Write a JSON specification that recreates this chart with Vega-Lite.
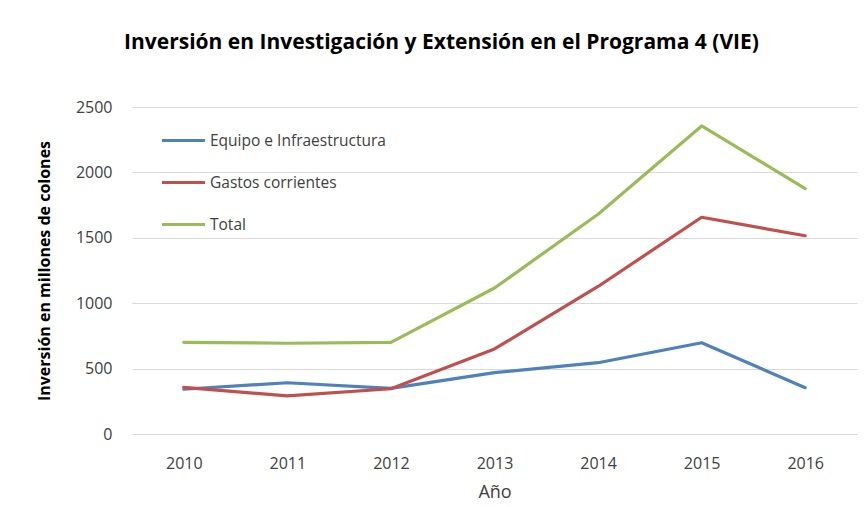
{
  "$schema": "https://vega.github.io/schema/vega-lite/v6.json",
  "width": 725,
  "height": 327,
  "autosize": "none",
  "padding": {"left": 132, "top": 107, "right": 10, "bottom": 73},
  "background": "white",
  "title": {
    "text": "Inversión en Investigación y Extensión en el Programa 4 (VIE)",
    "font": "Open Sans",
    "fontSize": 21,
    "fontWeight": "bold",
    "color": "#000000",
    "anchor": "middle",
    "dx": -53,
    "offset": 46
  },
  "data": {
    "values": [
      {"year": "2010", "serie": "Equipo e Infraestructura", "valor": 342},
      {"year": "2011", "serie": "Equipo e Infraestructura", "valor": 392},
      {"year": "2012", "serie": "Equipo e Infraestructura", "valor": 349},
      {"year": "2013", "serie": "Equipo e Infraestructura", "valor": 469},
      {"year": "2014", "serie": "Equipo e Infraestructura", "valor": 545},
      {"year": "2015", "serie": "Equipo e Infraestructura", "valor": 698},
      {"year": "2016", "serie": "Equipo e Infraestructura", "valor": 354},
      {"year": "2010", "serie": "Gastos corrientes", "valor": 356},
      {"year": "2011", "serie": "Gastos corrientes", "valor": 292},
      {"year": "2012", "serie": "Gastos corrientes", "valor": 346},
      {"year": "2013", "serie": "Gastos corrientes", "valor": 650},
      {"year": "2014", "serie": "Gastos corrientes", "valor": 1128},
      {"year": "2015", "serie": "Gastos corrientes", "valor": 1657},
      {"year": "2016", "serie": "Gastos corrientes", "valor": 1516},
      {"year": "2010", "serie": "Total", "valor": 701},
      {"year": "2011", "serie": "Total", "valor": 694},
      {"year": "2012", "serie": "Total", "valor": 700},
      {"year": "2013", "serie": "Total", "valor": 1116},
      {"year": "2014", "serie": "Total", "valor": 1680},
      {"year": "2015", "serie": "Total", "valor": 2355},
      {"year": "2016", "serie": "Total", "valor": 1876}
    ]
  },
  "mark": {"type": "line", "strokeWidth": 3.2, "strokeCap": "round", "strokeJoin": "round"},
  "encoding": {
    "x": {
      "field": "year",
      "type": "ordinal",
      "scale": {"type": "point", "padding": 0.5},
      "axis": {
        "title": "Año",
        "labelAngle": 0,
        "domain": false,
        "ticks": false,
        "grid": false,
        "labelFont": "Open Sans",
        "labelFontSize": 16,
        "labelColor": "#404040",
        "labelPadding": 21,
        "titleFont": "Open Sans",
        "titleFontSize": 18,
        "titleFontWeight": "normal",
        "titleColor": "#404040",
        "titlePadding": 12
      }
    },
    "y": {
      "field": "valor",
      "type": "quantitative",
      "scale": {"domain": [0, 2500]},
      "axis": {
        "title": "Inversión en millones de colones",
        "values": [0, 500, 1000, 1500, 2000, 2500],
        "format": "d",
        "domain": false,
        "ticks": false,
        "gridColor": "#D9D9D9",
        "gridWidth": 1,
        "labelFont": "Open Sans",
        "labelFontSize": 16,
        "labelColor": "#404040",
        "labelPadding": 20,
        "titleFont": "Open Sans",
        "titleFontSize": 16,
        "titleFontWeight": "bold",
        "titleColor": "#000000",
        "titlePadding": 23
      }
    },
    "color": {
      "field": "serie",
      "type": "nominal",
      "scale": {
        "domain": ["Equipo e Infraestructura", "Gastos corrientes", "Total"],
        "range": ["#4F81BD", "#C0504D", "#9BBB59"]
      },
      "legend": {
        "title": null,
        "orient": "none",
        "legendX": 28,
        "legendY": 10,
        "symbolType": "stroke",
        "symbolSize": 1850,
        "symbolStrokeWidth": 3.2,
        "labelFont": "Open Sans",
        "labelFontSize": 15.5,
        "labelColor": "#404040",
        "labelOffset": 3,
        "labelLimit": 400,
        "rowPadding": 10
      }
    }
  },
  "config": {"view": {"stroke": null}}
}
